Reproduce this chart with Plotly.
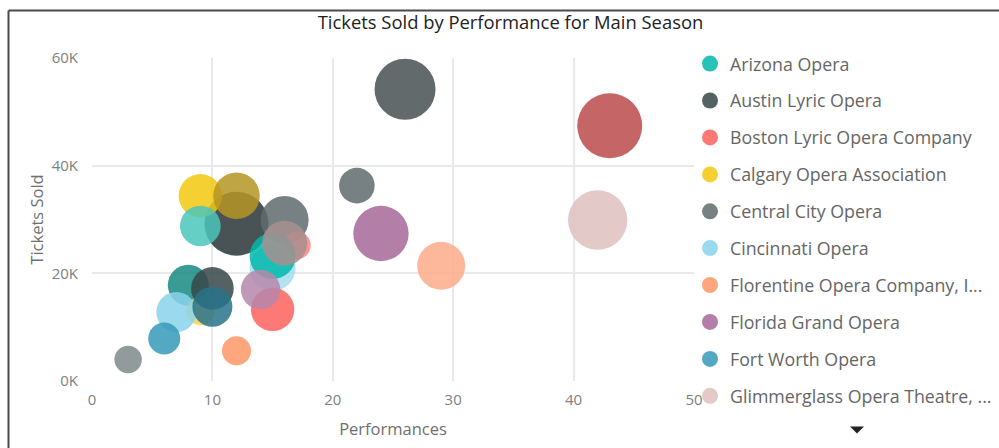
import plotly.graph_objects as go

# Opera companies, in palette order (only the first ten appear in the legend)
companies = [
    "Arizona Opera", "Austin Lyric Opera", "Boston Lyric Opera Company",
    "Calgary Opera Association", "Central City Opera", "Cincinnati Opera",
    "Florentine Opera Company, I...", "Florida Grand Opera", "Fort Worth Opera",
    "Glimmerglass Opera Theatre, ...",
    "Houston Grand Opera", "Kentucky Opera", "Los Angeles Opera",
    "Lyric Opera of Chicago", "Lyric Opera of Kansas City", "Madison Opera",
    "Michigan Opera Theatre", "Minnesota Opera", "Nashville Opera",
    "New Orleans Opera", "Opera Colorado", "Opera Omaha",
    "Opera Philadelphia", "Opera Theatre of Saint Louis", "Pittsburgh Opera",
]
performances = [15, 10, 15, 9, 22, 7, 12, 24, 6, 42,
                9, 16, 17, 9, 3, 15, 29, 14, 10, 16, 8, 12, 43, 12, 26]
tickets_sold = [23200, 17200, 13300, 34400, 36300, 12800, 5600, 27400, 7900, 29900,
                28800, 29900, 25200, 13000, 4000, 21000, 21400, 17000, 13800, 25600,
                17800, 29200, 47400, 34400, 54200]
revenue_k = [529, 454, 471, 471, 317, 400, 210, 767, 256, 882,
             412, 576, 196, 200, 188, 529, 576, 388, 400, 506,
             420, 1024, 1056, 543, 930]
colors = ["#01B8AA", "#374649", "#FD625E", "#F2C80F", "#5F6B6D", "#8AD4EB",
          "#FE9666", "#A66999", "#3599B8", "#DFBFBF", "#4AC5BB", "#5F6B6D",
          "#FB8281", "#F4D25A", "#7F898A", "#A4DDEE", "#FDAB89", "#B687AC",
          "#28738A", "#A78F8F", "#168980", "#293537", "#BB4A4A", "#B59525",
          "#475052"]

# Stacking order of the bubbles (bottom first)
draw_order = [21, 3, 23, 10, 11, 12, 15, 0, 19, 2, 17, 20, 13, 5, 1, 18,
              4, 6, 7, 8, 9, 14, 16, 22, 24]

x_ticks = [0, 10, 20, 30, 40, 50]
y_ticks = [0, 20000, 40000, 60000]
y_tick_text = ["0K", "20K", "40K", "60K"]

W, H = 999, 448
ML, MR, MT, MB = 92, 305, 58, 67
PW, PH = W - ML - MR, H - MT - MB


def px_to_paper(px, py):
    return (px - ML) / PW, (H - MB - py) / PH


fig = go.Figure()
for i in draw_order:
    fig.add_trace(go.Scatter(
        x=[performances[i]], y=[tickets_sold[i]],
        mode="markers", name=companies[i],
        legendgroup=companies[i], legendrank=i + 1,
        legend="legend" if i < 5 else "legend2",
        showlegend=i < 10,
        marker=dict(size=[revenue_k[i]], sizemode="area", sizeref=0.5,
                    color=colors[i], opacity=0.85, line=dict(width=0)),
        hovertemplate="%{x} performances<br>%{y:,} tickets<extra>" + companies[i] + "</extra>",
    ))

grid = "#e9e9e9"
tick_font = dict(family="Open Sans", size=15, color="#808080")
title_font = dict(family="Open Sans", size=16.5, color="#707070")
fig.update_xaxes(range=[0, 50], tickvals=x_ticks, showgrid=True, gridcolor=grid,
                 gridwidth=1.5, zeroline=False, showline=False, ticks="",
                 tickfont=tick_font, ticklabelstandoff=8,
                 title=dict(text="Performances", standoff=15, font=title_font))
fig.update_yaxes(range=[0, 60000], tickvals=y_ticks, ticktext=y_tick_text,
                 showgrid=True, gridcolor=grid, gridwidth=1.5, zeroline=False,
                 showline=False, ticks="", tickfont=tick_font, ticklabelstandoff=13,
                 title=dict(text="Tickets Sold", standoff=3, font=title_font))

# Frame edges (left and top) and the legend scroll arrow
fx0, fy_top = px_to_paper(8.5, 10.5)
fx_end, fy_end = px_to_paper(1040, 480)
ax0, ay0 = px_to_paper(850, 426.5)
ax1, _ = px_to_paper(864, 426.5)
axm, ay1 = px_to_paper(857, 433.5)
frame = dict(color="#4a4a4a", width=2)
fig.add_shape(type="line", xref="paper", yref="paper", x0=fx0, x1=fx0,
              y0=fy_end, y1=fy_top, line=frame)
fig.add_shape(type="line", xref="paper", yref="paper", x0=fx0, x1=fx_end,
              y0=fy_top, y1=fy_top, line=frame)
fig.add_shape(type="path", xref="paper", yref="paper",
              path=f"M {ax0} {ay0} L {ax1} {ay0} L {axm} {ay1} Z",
              fillcolor="#222222", line=dict(width=0))

legend_font = dict(family="Open Sans", size=17.8, color="#666666")
l1x, l1y = px_to_paper(690, 45.5)
_, l2y = px_to_paper(690, 45.5 + 5 * 36.9)
common = dict(xanchor="left", yanchor="top", font=legend_font, tracegroupgap=10.8,
              itemsizing="trace", bgcolor="rgba(0,0,0,0)", borderwidth=0)

fig.update_layout(
    width=W, height=H,
    margin=dict(l=ML, r=MR, t=MT, b=MB, autoexpand=False),
    paper_bgcolor="white", plot_bgcolor="white",
    font=dict(family="Open Sans"),
    title=dict(text="Tickets Sold by Performance for Main Season",
               x=0.511, xref="container", xanchor="center",
               y=1 - 23 / H, yref="container", yanchor="middle",
               font=dict(family="Open Sans", size=18.4, color="#222222")),
    legend=dict(x=l1x, y=l1y, **common),
    legend2=dict(x=l1x, y=l2y, **common),
    showlegend=True,
)

fig.write_html("out.html")
